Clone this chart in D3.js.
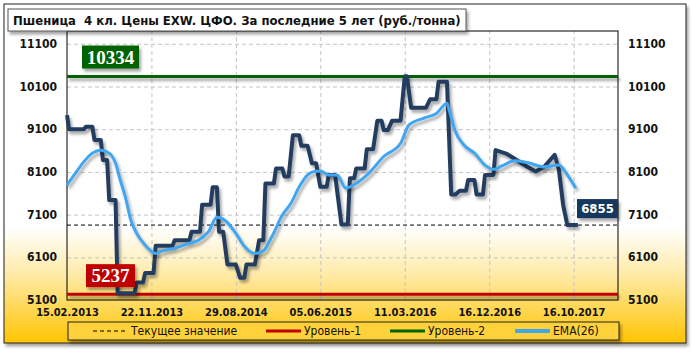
<!DOCTYPE html>
<html lang="ru">
<head>
<meta charset="utf-8">
<script src="https://d3js.org/d3.v7.min.js"></script>
<style>
  body { margin: 0; background: #fff; }
  text { font-family: "DejaVu Sans Condensed", "DejaVu Sans", sans-serif; }
</style>
</head>
<body>
<div id="chart"></div>
<script>
  // chart data (index = week number on the category axis)
  var title = "Пшеница  4 кл. Цены EXW. ЦФО. За последние 5 лет (руб./тонна)";
  var dateLabels = ["15.02.2013", "22.11.2013", "29.08.2014", "05.06.2015", "11.03.2016", "16.12.2016", "16.10.2017"];
  var dateIndex = [0, 40, 80, 120, 160, 200, 240];
  var yTicks = [5100, 6100, 7100, 8100, 9100, 10100, 11100];

  var priceIdx = [0, 1, 8, 9, 12, 13, 16, 17, 19, 20, 23, 24, 32, 33, 36, 37, 41, 42, 50, 51,
    58, 59, 63, 64, 68, 69, 71, 72, 74, 76, 80, 82, 84, 85, 89, 91, 93, 94, 98, 99,
    102, 103, 105, 107, 110, 111, 114, 116, 118, 120, 123, 124, 127, 130, 133, 134, 136, 137, 141, 142,
    145, 147, 149, 150, 152, 154, 158, 160, 161, 163, 170, 172, 175, 176, 180, 182, 184, 186, 189, 190,
    193, 194, 197, 198, 202, 203, 208, 213, 218, 222, 226, 231, 233, 235, 237, 242];
  var priceVal = [9430, 9100, 9100, 9160, 9160, 8850, 8850, 8380, 8380, 7440, 7440, 5260, 5260, 5510, 5510, 5730, 5730, 6370, 6370, 6500,
    6500, 6700, 6700, 7330, 7330, 7740, 7740, 6700, 6700, 5930, 5930, 5620, 5620, 5930, 5930, 6500, 6500, 7830, 7830, 8180,
    8180, 7990, 7990, 8960, 8960, 8710, 8710, 8300, 8300, 7750, 7750, 8030, 8030, 6870, 6870, 7950, 7950, 8180, 8180, 8630,
    8630, 9300, 9300, 9080, 9080, 9300, 9300, 10340, 10340, 9600, 9600, 9800, 9800, 10210, 10210, 7570, 7570, 7660, 7660, 7910,
    7910, 7570, 7570, 8030, 8030, 8610, 8530, 8380, 8220, 8110, 8220, 8500, 8150, 7330, 6855, 6855];

  var emaIdx = [0, 4, 8, 12, 16, 20, 23, 25, 28, 30, 33, 37, 42, 45, 51, 58, 62, 67, 71, 75,
    80, 84, 89, 93, 97, 102, 106, 110, 114, 117, 120, 124, 128, 132, 137, 143, 150, 158, 162, 169,
    175, 180, 181, 184, 188, 193, 198, 202, 206, 212, 218, 226, 233, 237, 241];
  var emaVal = [7790, 8070, 8340, 8540, 8610, 8540, 8300, 7950, 7440, 7010, 6660, 6390, 6190, 6250, 6310, 6430, 6490, 6700, 7040, 6960,
    6660, 6360, 6190, 6250, 6580, 7090, 7360, 7750, 8030, 8110, 8120, 8030, 8030, 7720, 7830, 8070, 8460, 8770, 9200, 9360,
    9470, 9710, 9550, 9040, 8730, 8540, 8260, 8160, 8240, 8360, 8320, 8220, 8260, 8030, 7720];

  var currentValue = 6855;
  var level1 = 5237;
  var level2 = 10334;
  var legendLabels = ["Текущее значение", "Уровень-1", "Уровень-2", "EMA(26)"];

  var width = 692;
  var height = 352;
  var plotLeft = 67, plotRight = 618, plotTop = 31, plotBottom = 300;

  var x = d3.scaleLinear().domain([0, 261]).range([plotLeft, plotRight]);
  var y = d3.scaleLinear().domain([5100, 11400]).range([plotBottom, plotTop]);

  var svg = d3.select('#chart')
    .append('svg')
    .attr('width', width)
    .attr('height', height);

  var defs = svg.append('defs');

  var grad = defs.append('linearGradient')
    .attr('id', 'bg')
    .attr('x1', 0).attr('y1', 0).attr('x2', 0).attr('y2', 1);
  grad.append('stop').attr('offset', '0').attr('stop-color', '#ffffff');
  grad.append('stop').attr('offset', '0.66').attr('stop-color', '#ffffff');
  grad.append('stop').attr('offset', '0.8').attr('stop-color', '#ffeaa6');
  grad.append('stop').attr('offset', '1').attr('stop-color', '#ffc400');

  // user space region so that flat lines keep their shadow too
  var shadow = defs.append('filter')
    .attr('id', 'shadow')
    .attr('filterUnits', 'userSpaceOnUse')
    .attr('x', 0).attr('y', 0).attr('width', width).attr('height', height);
  shadow.append('feDropShadow')
    .attr('dx', 2).attr('dy', 3)
    .attr('stdDeviation', 1.5)
    .attr('flood-color', '#000')
    .attr('flood-opacity', 0.35);

  // outer frame
  svg.append('rect')
    .attr('x', 4).attr('y', 4)
    .attr('width', 682).attr('height', 339)
    .attr('fill', 'url(#bg)')
    .attr('stroke', '#222')
    .attr('stroke-width', 1)
    .attr('filter', 'url(#shadow)');

  // grid
  svg.append('g')
    .attr('transform', 'translate(' + plotLeft + ',0)')
    .call(d3.axisLeft(y).tickValues(yTicks.slice(1)).tickSize(-(plotRight - plotLeft)).tickFormat(''))
    .call(function (g) { g.select('.domain').remove(); })
    .selectAll('line')
    .attr('stroke', '#c4c4c4')
    .attr('stroke-dasharray', '4,3');

  svg.append('g')
    .attr('transform', 'translate(0,' + plotBottom + ')')
    .call(d3.axisBottom(x).tickValues(dateIndex.slice(1)).tickSize(-(plotBottom - plotTop)).tickFormat(''))
    .call(function (g) { g.select('.domain').remove(); })
    .selectAll('line')
    .attr('stroke', '#c4c4c4')
    .attr('stroke-dasharray', '4,3');

  // plot border
  svg.append('rect')
    .attr('x', plotLeft).attr('y', plotTop)
    .attr('width', plotRight - plotLeft).attr('height', plotBottom - plotTop)
    .attr('fill', 'none')
    .attr('stroke', '#000')
    .attr('stroke-width', 1);

  // axes labels
  var axisL = svg.append('g')
    .attr('transform', 'translate(' + plotLeft + ',0)')
    .call(d3.axisLeft(y).tickValues(yTicks).tickSize(0).tickPadding(10).tickFormat(d3.format('d')));
  var axisR = svg.append('g')
    .attr('transform', 'translate(' + plotRight + ',0)')
    .call(d3.axisRight(y).tickValues(yTicks).tickSize(0).tickPadding(10).tickFormat(d3.format('d')));
  var axisB = svg.append('g')
    .attr('transform', 'translate(0,' + plotBottom + ')')
    .call(d3.axisBottom(x).tickValues(dateIndex).tickSize(0).tickPadding(8)
      .tickFormat(function (d, i) { return dateLabels[i]; }));

  [axisL, axisR, axisB].forEach(function (g) {
    g.select('.domain').remove();
    g.selectAll('text')
      .attr('fill', '#111')
      .style('font-family', '"DejaVu Sans Condensed", sans-serif')
      .style('font-weight', 'bold')
      .style('font-size', '12px');
  });
  axisB.selectAll('text').style('font-size', '11px');
  axisL.selectAll('text').attr('dy', '0.3em');
  axisR.selectAll('text').attr('dy', '0.3em');

  // current value (dashed)
  svg.append('line')
    .attr('x1', plotLeft).attr('x2', plotRight)
    .attr('y1', y(currentValue)).attr('y2', y(currentValue))
    .attr('stroke', '#000')
    .attr('stroke-width', 1)
    .attr('stroke-dasharray', '4,3');

  // levels
  svg.append('line')
    .attr('x1', plotLeft).attr('x2', plotRight)
    .attr('y1', y(level1)).attr('y2', y(level1))
    .attr('stroke', '#c00000')
    .attr('stroke-width', 3)
    .attr('filter', 'url(#shadow)');
  svg.append('line')
    .attr('x1', plotLeft).attr('x2', plotRight)
    .attr('y1', y(level2)).attr('y2', y(level2))
    .attr('stroke', '#006400')
    .attr('stroke-width', 3)
    .attr('filter', 'url(#shadow)');

  // price and EMA
  var price = priceIdx.map(function (d, i) { return [d, priceVal[i]]; });
  var ema = emaIdx.map(function (d, i) { return [d, emaVal[i]]; });

  var line = d3.line()
    .x(function (d) { return x(d[0]); })
    .y(function (d) { return y(d[1]); });

  svg.append('path')
    .datum(price)
    .attr('d', line)
    .attr('fill', 'none')
    .attr('stroke', '#243c5e')
    .attr('stroke-width', 4)
    .attr('stroke-linejoin', 'round')
    .attr('filter', 'url(#shadow)');

  svg.append('path')
    .datum(ema)
    .attr('d', line.curve(d3.curveMonotoneX))
    .attr('fill', 'none')
    .attr('stroke', '#3fa6f2')
    .attr('stroke-width', 3)
    .attr('stroke-linejoin', 'round')
    .attr('filter', 'url(#shadow)');

  // value boxes
  function valueBox(value, bx, by, bw, bh, fill, font, size) {
    svg.append('rect')
      .attr('x', bx).attr('y', by)
      .attr('width', bw).attr('height', bh)
      .attr('fill', fill)
      .attr('filter', 'url(#shadow)');
    svg.append('text')
      .attr('x', bx + bw / 2).attr('y', by + bh / 2)
      .attr('dy', '0.36em')
      .attr('text-anchor', 'middle')
      .attr('fill', '#fff')
      .style('font-family', font)
      .style('font-weight', 'bold')
      .style('font-size', size)
      .text(value);
  }
  valueBox(level2, 82, y(level2) - 31, 57, 23, '#006400', '"Liberation Serif", serif', '19px');
  valueBox(level1, 86, y(level1) - 30, 49, 23, '#c00000', '"Liberation Serif", serif', '19px');
  valueBox(currentValue, 577, y(currentValue) - 26, 41, 19, '#17375e', '"DejaVu Sans Condensed", sans-serif', '13px');

  // title
  var tg = svg.append('g');
  tg.append('rect')
    .attr('x', 8).attr('y', 9)
    .attr('width', 458).attr('height', 22)
    .attr('fill', '#fff')
    .attr('stroke', '#555')
    .attr('filter', 'url(#shadow)');
  tg.append('text')
    .attr('x', 13).attr('y', 24.5)
    .attr('fill', '#111')
    .style('font-weight', 'bold')
    .style('font-size', '13px')
    .style('white-space', 'pre')
    .text(title);

  // legend
  var lg = svg.append('g');
  lg.append('rect')
    .attr('x', 68).attr('y', 322)
    .attr('width', 551).attr('height', 18)
    .attr('fill', '#ffd23a')
    .attr('stroke', '#222')
    .attr('filter', 'url(#shadow)');

  var legendX = [93, 266, 390, 515];
  var legendStroke = ['#000', '#c00000', '#006400', '#3fa6f2'];
  var legendWidth = [1, 3, 3, 4];
  var legendDash = ['4,3', null, null, null];

  legendLabels.forEach(function (d, i) {
    lg.append('line')
      .attr('x1', legendX[i]).attr('x2', legendX[i] + 35)
      .attr('y1', 331).attr('y2', 331)
      .attr('stroke', legendStroke[i])
      .attr('stroke-width', legendWidth[i])
      .attr('stroke-dasharray', legendDash[i]);
    lg.append('text')
      .attr('x', legendX[i] + 38).attr('y', 331)
      .attr('dy', '0.36em')
      .attr('fill', '#111')
      .style('font-size', '12px')
      .text(d);
  });
</script>
</body>
</html>
